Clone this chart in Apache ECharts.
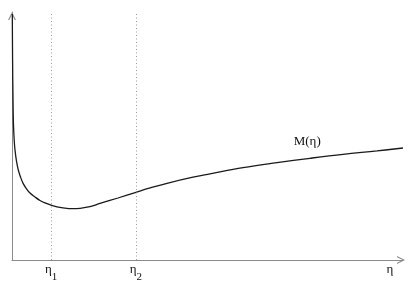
<!DOCTYPE html>
<html>
<head>
<meta charset="utf-8">
<script src="https://cdn.jsdelivr.net/npm/echarts@6/dist/echarts.min.js"></script>
<style>
html,body{margin:0;padding:0;background:#fff;}
#c{width:410px;height:285px;}
</style>
</head>
<body>
<div id="c"></div>
<script>
// eta values (x) and M(eta) values (y), arbitrary units
const etaValues = [0.008, 0.015, 0.026, 0.038, 0.056, 0.077, 0.115, 0.161, 0.217, 0.281, 0.358, 0.460, 0.588, 0.716, 0.844, 0.997, 1.151, 1.304, 1.535, 1.739, 1.995, 2.251, 2.711, 3.171, 3.555, 3.964, 4.629, 5.064, 5.908, 6.778, 7.622, 8.466, 9.335, 10.0];
const mValues   = [9.92, 8.06, 6.45, 5.44, 4.84, 4.43, 3.99, 3.63, 3.35, 3.10, 2.90, 2.70, 2.54, 2.40, 2.30, 2.21, 2.14, 2.10, 2.07, 2.085, 2.15, 2.28, 2.50, 2.73, 2.915, 3.093, 3.339, 3.472, 3.722, 3.923, 4.101, 4.262, 4.399, 4.516];
const markEtas = [1.0, 3.17];
const markNames = ['1', '2'];
const seriesLabel = 'M(η)';
const seriesLabelAt = [7.55, 4.78];
const axisName = 'η';

const FONT = '"Liberation Serif", "DejaVu Serif", serif';
const chevron = 'path://M0,10 L5,0 L10,10 L8.4,10 L5,3 L1.6,10 Z';

const chart = echarts.init(document.getElementById('c'), null, {renderer: 'canvas'});
chart.setOption({
  animation: false,
  backgroundColor: '#fff',
  grid: {left: 12, right: 7, top: 12, bottom: 25},
  xAxis: {
    type: 'value', min: 0, max: 10,
    name: axisName, nameLocation: 'end', nameGap: -13,
    nameTextStyle: {fontFamily: FONT, fontSize: 13, color: '#111', verticalAlign: 'top', align: 'center', padding: [3, 0, 0, 0]},
    axisLine: {show: true, lineStyle: {color: '#8a8a8a', width: 1}, symbol: ['none', chevron], symbolSize: [8, 8], symbolOffset: [0, -2]},
    axisTick: {show: false}, axisLabel: {show: false}, splitLine: {show: false}
  },
  yAxis: {
    type: 'value', min: 0, max: 10,
    axisLine: {show: true, onZero: false, lineStyle: {color: '#8a8a8a', width: 1}, symbol: ['none', chevron], symbolSize: [8, 8], symbolOffset: [0, -4]},
    axisTick: {show: false}, axisLabel: {show: false}, splitLine: {show: false}
  },
  series: [{
    type: 'line',
    data: etaValues.map((x, i) => [x, mValues[i]]),
    showSymbol: false,
    smooth: 0.4,
    lineStyle: {color: '#1a1a1a', width: 1.3},
    markLine: {
      silent: true, symbol: ['none', 'none'],
      lineStyle: {color: '#9a9a9a', type: [1, 2.5], width: 1},
      label: {
        show: true, position: 'start', distance: 3,
        formatter: p => '{n|η}{s|' + p.name + '}',
        rich: {
          n: {fontFamily: FONT, fontSize: 13, color: '#111', padding: [0, 0, 8, 0]},
          s: {fontFamily: FONT, fontSize: 11, color: '#111', padding: [8, 0, 0, 0]}
        }
      },
      data: markEtas.map((x, i) => ({xAxis: x, name: markNames[i]}))
    },
    markPoint: {
      silent: true, symbol: 'circle', symbolSize: 1,
      itemStyle: {color: 'rgba(0,0,0,0)'},
      label: {show: true, formatter: seriesLabel, fontFamily: FONT, fontSize: 13, color: '#111', position: 'inside'},
      data: [{coord: seriesLabelAt}]
    }
  }]
});
</script>
</body>
</html>
